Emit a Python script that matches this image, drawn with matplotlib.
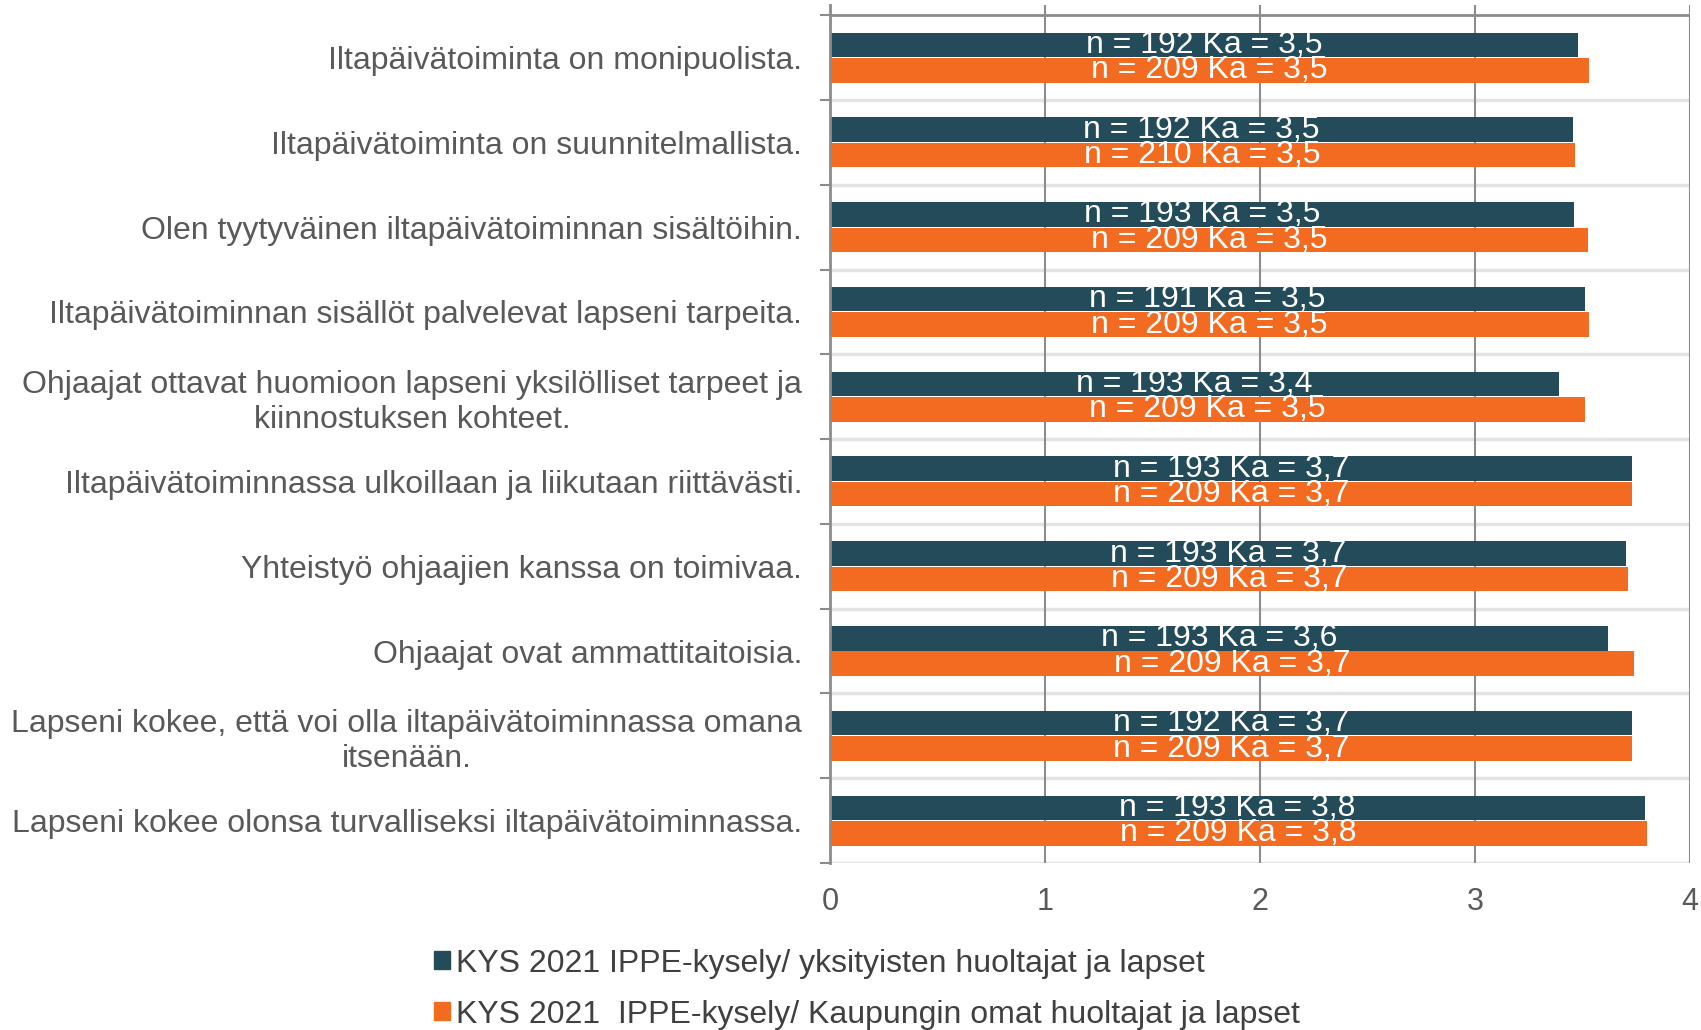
import matplotlib
matplotlib.use("Agg")
import matplotlib.pyplot as plt
import numpy as np
from matplotlib.patches import Patch

# Data
categories = [
    "Iltapäivätoiminta on monipuolista.",
    "Iltapäivätoiminta on suunnitelmallista.",
    "Olen tyytyväinen iltapäivätoiminnan sisältöihin.",
    "Iltapäivätoiminnan sisällöt palvelevat lapseni tarpeita.",
    "Ohjaajat ottavat huomioon lapseni yksilölliset tarpeet ja\nkiinnostuksen kohteet.",
    "Iltapäivätoiminnassa ulkoillaan ja liikutaan riittävästi.",
    "Yhteistyö ohjaajien kanssa on toimivaa.",
    "Ohjaajat ovat ammattitaitoisia.",
    "Lapseni kokee, että voi olla iltapäivätoiminnassa omana\nitsenään.",
    "Lapseni kokee olonsa turvalliseksi iltapäivätoiminnassa.",
]
series_names = [
    "KYS 2021 IPPE-kysely/ yksityisten huoltajat ja lapset",
    "KYS 2021  IPPE-kysely/ Kaupungin omat huoltajat ja lapset",
]
mean_private = [3.48, 3.455, 3.46, 3.51, 3.39, 3.73, 3.70, 3.62, 3.73, 3.79]
mean_city = [3.53, 3.465, 3.526, 3.53, 3.51, 3.73, 3.71, 3.74, 3.73, 3.80]
n_private = [192, 192, 193, 191, 193, 193, 193, 193, 192, 193]
n_city = [209, 210, 209, 209, 209, 209, 209, 209, 209, 209]
ka_private = ["3,5", "3,5", "3,5", "3,5", "3,4", "3,7", "3,7", "3,6", "3,7", "3,8"]
ka_city = ["3,5", "3,5", "3,5", "3,5", "3,5", "3,7", "3,7", "3,7", "3,7", "3,8"]

DARK = "#234B5A"
ORANGE = "#F26B21"
plt.rcParams["font.family"] = ["Liberation Sans", "DejaVu Sans"]

fig = plt.figure(figsize=(17.01, 10.30), dpi=100)
ax = fig.add_axes([830 / 1701, 1 - 863 / 1030, 860 / 1701, 858 / 1030])

y = np.arange(len(categories))
h = 0.29
ax.barh(y - 0.15, mean_private, height=h, color=DARK, zorder=3)
ax.barh(y + 0.15, mean_city, height=h, color=ORANGE, zorder=3)

for i in range(len(categories)):
    ax.text(mean_private[i] / 2, y[i] - 0.15, f"n = {n_private[i]} Ka = {ka_private[i]}",
            ha="center", va="center", color="white", fontsize=23, zorder=4)
    ax.text(mean_city[i] / 2, y[i] + 0.15, f"n = {n_city[i]} Ka = {ka_city[i]}",
            ha="center", va="center", color="white", fontsize=23, zorder=4)

ax.set_xlim(0, 4)
ax.set_ylim(len(categories) - 0.5, -0.62)

# category boundaries
bounds = np.arange(len(categories) + 1) - 0.5
for b in bounds[1:]:
    ax.axhline(b, color="#e3e3e3", lw=2.5, zorder=1)
ax.axhline(bounds[0], color="#8c8c8c", lw=2, zorder=2)

for s in ["top", "bottom", "right"]:
    ax.spines[s].set_visible(False)
ax.spines["left"].set_color("#8c8c8c")
ax.spines["left"].set_linewidth(2)
ax.spines["left"].set_zorder(5)

ax.set_xticks([0, 1, 2, 3, 4])
ax.xaxis.grid(True, color="#8c8c8c", lw=1.5, zorder=0)
ax.tick_params(axis="x", length=0, pad=17, labelsize=22, labelcolor="#595959")

ax.set_yticks(y)
ax.set_yticklabels(categories, fontsize=23, color="#595959", multialignment="center")
ax.set_yticks(bounds.tolist(), minor=True)
ax.tick_params(axis="y", which="major", length=0, pad=20)
ax.tick_params(axis="y", which="minor", length=7, width=1.5, color="#8c8c8c")

handles = [Patch(color=DARK), Patch(color=ORANGE)]
fig.legend(handles, series_names, loc="upper left", bbox_to_anchor=(0.238, 0.107),
           frameon=False, fontsize=23, handlelength=0.5, handleheight=0.5,
           handletextpad=0.2, labelspacing=0.66, labelcolor="#404040")

fig.savefig("out.png", dpi=100)
